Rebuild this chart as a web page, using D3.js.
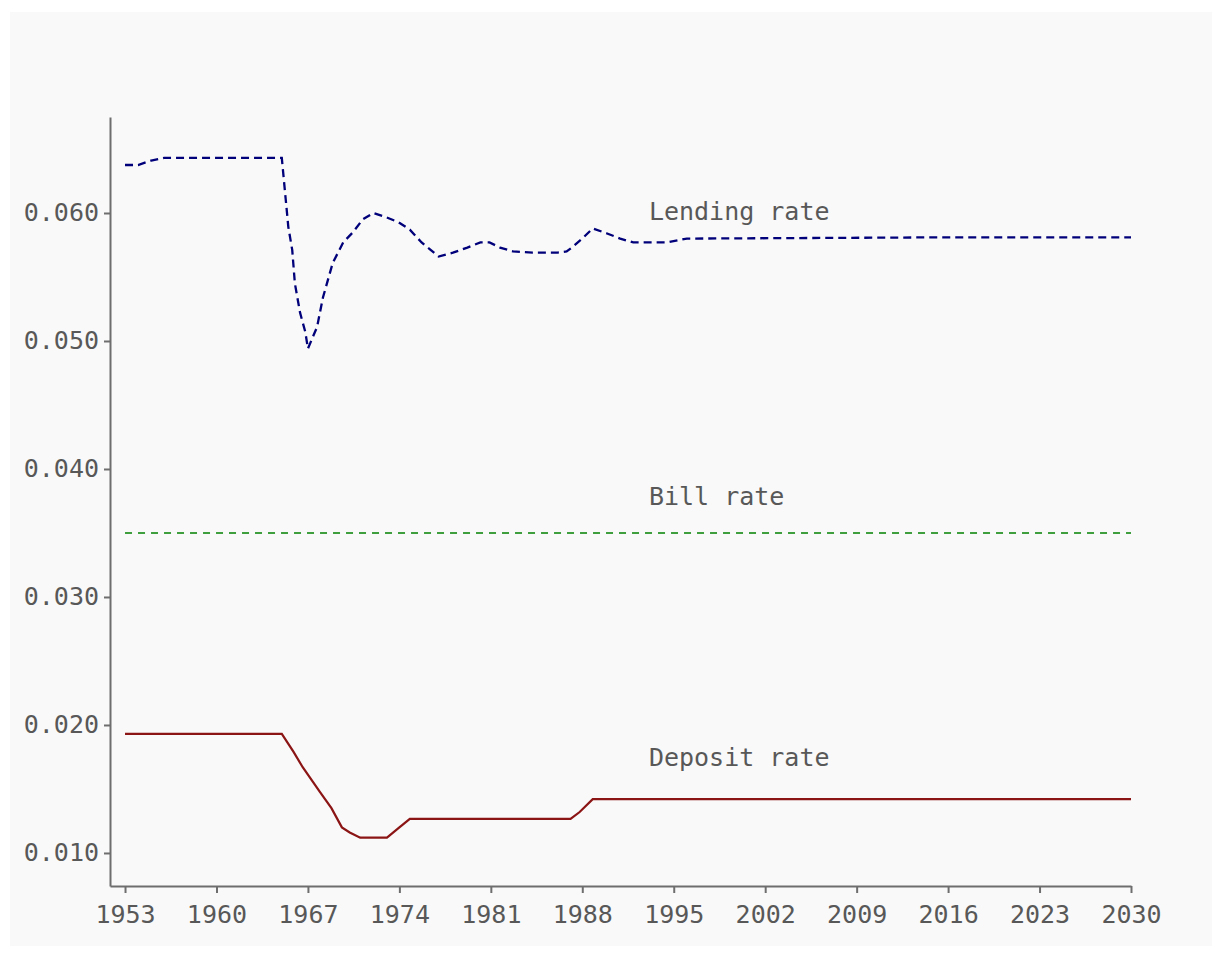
<!DOCTYPE html>
<html>
<head>
<meta charset="utf-8">
<script src="https://cdn.jsdelivr.net/npm/d3@7"></script>
<style>
  body { margin: 0; background: #ffffff; }
  svg { display: block; }
  .tick text { font-family: "DejaVu Sans Mono", monospace; font-size: 25px; fill: #585858; }
</style>
</head>
<body>
<div id="chart"></div>
<script>
// Data
const lendingYears = [1953, 1954, 1955, 1956, 1960, 1965, 1965.25, 1965.5, 1965.8, 1966, 1966.4, 1966.8, 1967,
  1967.7, 1968.15, 1968.9, 1969.7, 1970.45, 1971.2, 1972, 1972.9, 1973.9, 1974.8, 1975.7, 1977, 1978.1,
  1979.2, 1980.2, 1980.9, 1981.7, 1982.7, 1984.2, 1986.1, 1986.8, 1987.2, 1988, 1988.8, 1989.9, 1990.9,
  1991.9, 1994.5, 1996, 2016, 2030];
const lendingRate = [0.06375, 0.06375, 0.0641, 0.0643, 0.0643, 0.0643, 0.0616, 0.0589, 0.0571, 0.0545, 0.0522, 0.0507, 0.0494,
  0.0511, 0.0534, 0.0561, 0.0577, 0.0585, 0.0595, 0.0600, 0.0597, 0.0593, 0.0587, 0.0577, 0.0566, 0.0569,
  0.0573, 0.0577, 0.0577, 0.0573, 0.0570, 0.0569, 0.0569, 0.0570, 0.0573, 0.0580, 0.0588, 0.0584, 0.0580,
  0.0577, 0.0577, 0.0580, 0.0581, 0.0581];

const billYears = [1953, 2030];
const billRate = [0.035, 0.035];

const depositYears = [1953, 1965, 1965.9, 1966.6, 1967.9, 1968.8, 1969.6, 1970.2, 1971, 1973.05, 1974, 1974.8,
  1987.1, 1987.8, 1988.8, 2030];
const depositRate = [0.0193, 0.0193, 0.0179, 0.0167, 0.0148, 0.0135, 0.0120, 0.0116, 0.0112, 0.0112, 0.0120, 0.01266,
  0.01266, 0.0132, 0.0142, 0.0142];

const xTicks = [1953, 1960, 1967, 1974, 1981, 1988, 1995, 2002, 2009, 2016, 2023, 2030];
const yTicks = [0.010, 0.020, 0.030, 0.040, 0.050, 0.060];
const seriesNames = ["Lending rate", "Bill rate", "Deposit rate"];

const width = 1212, height = 957;

const svg = d3.select("#chart")
  .append("svg")
  .attr("width", width)
  .attr("height", height);

// grey panel
svg.append("rect")
  .attr("x", 10)
  .attr("y", 12)
  .attr("width", width - 10)
  .attr("height", 934)
  .attr("fill", "#f9f9f9");

// scales (domain stretched so the axes meet at the corner)
const x = d3.scaleLinear()
  .domain([1951.85, 2030])
  .range([110, 1131]);

const y = d3.scaleLinear()
  .domain([0.00742, 0.0675])
  .range([886, 117]);

// axes
const xAxis = svg.append("g")
  .attr("transform", "translate(0,886)")
  .call(d3.axisBottom(x).tickValues(xTicks).tickFormat(d3.format("d")).tickSize(7).tickSizeOuter(0).tickPadding(12));

const yAxis = svg.append("g")
  .attr("transform", "translate(110,0)")
  .call(d3.axisLeft(y).tickValues(yTicks).tickFormat(d3.format(".3f")).tickSize(6).tickSizeOuter(0).tickPadding(5));

[xAxis, yAxis].forEach(g => {
  g.select(".domain").attr("stroke", "#6e6e6e").attr("stroke-width", 2);
  g.selectAll(".tick line").attr("stroke", "#6e6e6e").attr("stroke-width", 2);
});

// lines
const makeLine = yrs => d3.line()
  .x((d, i) => x(yrs[i]))
  .y(d => y(d));

svg.append("path")
  .datum(lendingRate)
  .attr("d", makeLine(lendingYears))
  .attr("fill", "none")
  .attr("stroke", "#00007a")
  .attr("stroke-width", 2.3)
  .attr("stroke-dasharray", "8,5");

svg.append("path")
  .datum(billRate)
  .attr("d", makeLine(billYears))
  .attr("fill", "none")
  .attr("stroke", "#3f9f3f")
  .attr("stroke-width", 2)
  .attr("stroke-dasharray", "7,6");

svg.append("path")
  .datum(depositRate)
  .attr("d", makeLine(depositYears))
  .attr("fill", "none")
  .attr("stroke", "#8b1414")
  .attr("stroke-width", 2.2);

// series labels
const lastVals = [lendingRate[lendingRate.length - 1], billRate[1], depositRate[depositRate.length - 1]];
const labelOffsets = [17, 28, 33];
svg.selectAll(".series-label")
  .data(seriesNames)
  .enter()
  .append("text")
  .attr("class", "series-label")
  .attr("x", x(1993.1))
  .attr("y", (d, i) => y(lastVals[i]) - labelOffsets[i])
  .attr("font-family", "DejaVu Sans Mono, monospace")
  .attr("font-size", "25px")
  .attr("fill", "#585858")
  .text(d => d);
</script>
</body>
</html>
